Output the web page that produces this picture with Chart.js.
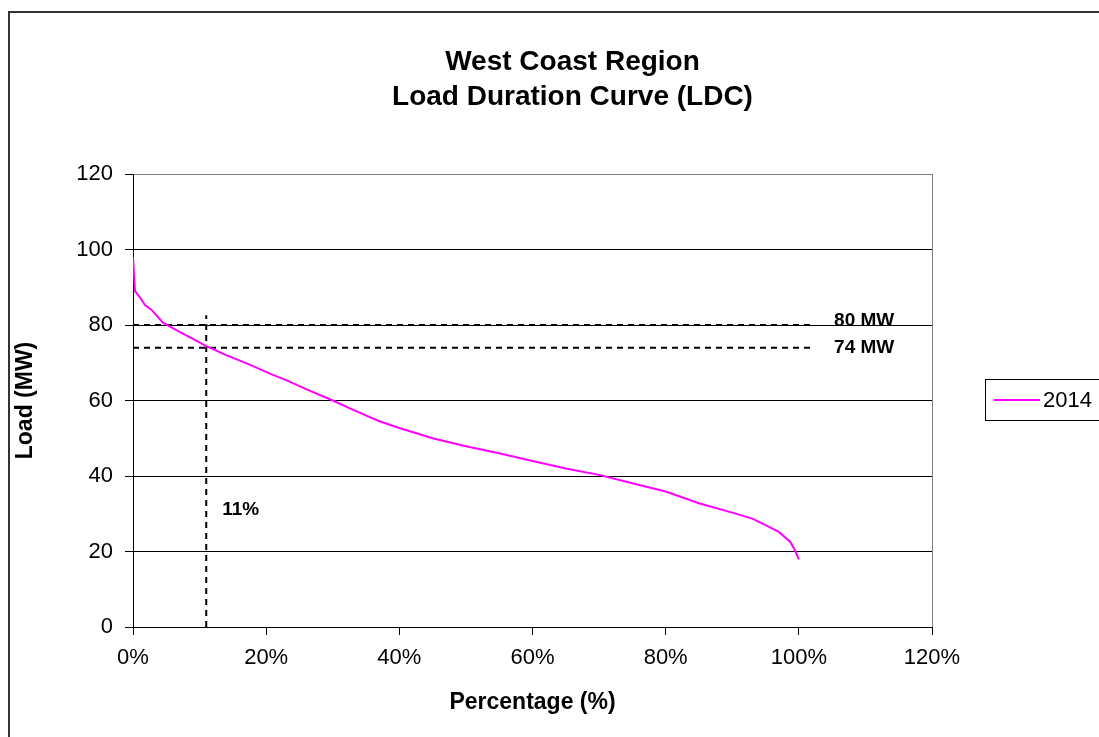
<!DOCTYPE html>
<html>
<head>
<meta charset="utf-8">
<script src="https://cdn.jsdelivr.net/npm/chart.js@4.4.1/dist/chart.umd.min.js"></script>
<style>
  html, body { margin: 0; padding: 0; background: #fff; overflow: hidden; }
  #wrap { position: absolute; left: 0; top: 0; width: 1145px; height: 737px; }
</style>
</head>
<body>
<div id="wrap"><canvas id="ldc" width="1145" height="737"></canvas></div>
<script>
// load duration curve, 2014
const pct  = [0, 0.3, 1, 1.8, 2.8, 4.5, 7, 9, 11, 14, 17, 21, 23, 26, 30, 33, 37, 40, 45, 50, 55, 60, 65, 70, 75, 80, 85, 90, 93, 95, 97, 98.7, 99.4, 100];
const load = [98, 89, 87.4, 85.3, 84, 80.6, 78.2, 76.3, 74.4, 72, 69.9, 66.8, 65.4, 63, 60, 57.6, 54.5, 52.7, 50, 47.9, 46, 44, 42, 40.3, 38.1, 35.9, 32.8, 30.3, 28.7, 27, 25.2, 22.6, 20.4, 17.9];
const seriesName = '2014';
const titleLines = ['West Coast Region', 'Load Duration Curve (LDC)'];

// reference lines
const refLoads  = [80, 74];
const refLabels = ['80 MW', '74 MW'];
const refEnd    = 102;   // % where the dashed lines stop
const refPct    = 11;
const refPctTop = 82.6;
const refPctLabel = '11%';

const xTicks = [0, 20, 40, 60, 80, 100, 120];

const FONT = 'Arial, "Liberation Sans", sans-serif';
Chart.defaults.font.family = FONT;
Chart.defaults.color = '#000';

const dashed = {
  borderColor: '#000',
  borderWidth: 2,
  borderDash: [6, 5],
  pointRadius: 0,
  fill: false,
  tension: 0
};

let datasets = [{
  label: seriesName,
  data: pct.map((p, i) => ({ x: p, y: load[i] })),
  borderColor: '#ff00ff',
  borderWidth: 2,
  pointRadius: 0,
  fill: false,
  tension: 0
}];
refLoads.forEach(v => {
  datasets.push(Object.assign({ label: '', data: [{ x: 0, y: v }, { x: refEnd, y: v }] }, dashed));
});
datasets.push(Object.assign({ label: '', data: [{ x: refPct, y: 0 }, { x: refPct, y: refPctTop }] }, dashed));

const extras = {
  id: 'extras',
  beforeDraw(chart) {
    const c = chart.ctx;
    c.save();
    c.fillStyle = '#fff';
    c.fillRect(0, 0, chart.width, chart.height);
    c.strokeStyle = '#333';
    c.lineWidth = 2;
    c.strokeRect(9, 12, chart.width, chart.height + 20);
    c.restore();
  },
  afterDraw(chart) {
    const c = chart.ctx, xs = chart.scales.x, ys = chart.scales.y;
    c.save();
    c.fillStyle = '#000';

    // title, centred on the whole chart object
    c.font = 'bold 28px ' + FONT;
    c.textAlign = 'center';
    c.textBaseline = 'middle';
    titleLines.forEach((t, i) => c.fillText(t, chart.width / 2, 62 + i * 35));

    c.font = 'bold 19px ' + FONT;
    c.textAlign = 'left';
    refLoads.forEach((v, i) => {
      c.fillText(refLabels[i], xs.getPixelForValue(105.3), ys.getPixelForValue(v + (i === 0 ? 1 : 0)));
    });
    c.fillText(refPctLabel, xs.getPixelForValue(13.4), ys.getPixelForValue(31));

    // legend box
    const ds = chart.data.datasets[0];
    c.strokeStyle = '#000';
    c.lineWidth = 1;
    c.strokeRect(985.5, 379.5, 200, 41);
    c.strokeStyle = ds.borderColor;
    c.lineWidth = 2;
    c.beginPath();
    c.moveTo(994, 400);
    c.lineTo(1040, 400);
    c.stroke();
    c.font = '22px ' + FONT;
    c.fillText(ds.label, 1043, 401);
    c.restore();
  }
};

new Chart(document.getElementById('ldc'), {
  type: 'line',
  data: { datasets: datasets },
  options: {
    responsive: false,
    animation: false,
    devicePixelRatio: 1,
    layout: { padding: { left: 0, right: 213, top: 174, bottom: 0 } },
    plugins: {
      legend: { display: false },
      tooltip: { enabled: false },
      title: { display: false }
    },
    scales: {
      x: {
        type: 'linear',
        min: 0,
        max: 120,
        afterBuildTicks: s => { s.ticks = xTicks.map(v => ({ value: v })); },
        ticks: { callback: v => v + '%', font: { size: 22 }, padding: 10, maxRotation: 0 },
        grid: {
          color: ctx => ctx.tick && ctx.tick.value === 120 ? '#808080' : 'rgba(0,0,0,0)',
          tickColor: '#000',
          tickLength: 8
        },
        border: { color: '#000', width: 1 },
        title: { display: true, text: 'Percentage (%)', font: { size: 23, weight: 'bold' }, padding: { bottom: 21 } },
        afterFit: s => { s.height = 110; }
      },
      y: {
        min: 0,
        max: 120,
        ticks: { stepSize: 20, font: { size: 22 }, padding: 12 },
        grid: {
          color: ctx => ctx.tick && ctx.tick.value === 120 ? '#808080' : '#000',
          tickColor: '#000',
          tickLength: 8
        },
        border: { color: '#000', width: 1 },
        title: { display: true, text: 'Load (MW)', font: { size: 23, weight: 'bold' }, padding: { top: 12 } },
        afterFit: s => { s.width = 133; }
      }
    }
  },
  plugins: [extras]
});
</script>
</body>
</html>
